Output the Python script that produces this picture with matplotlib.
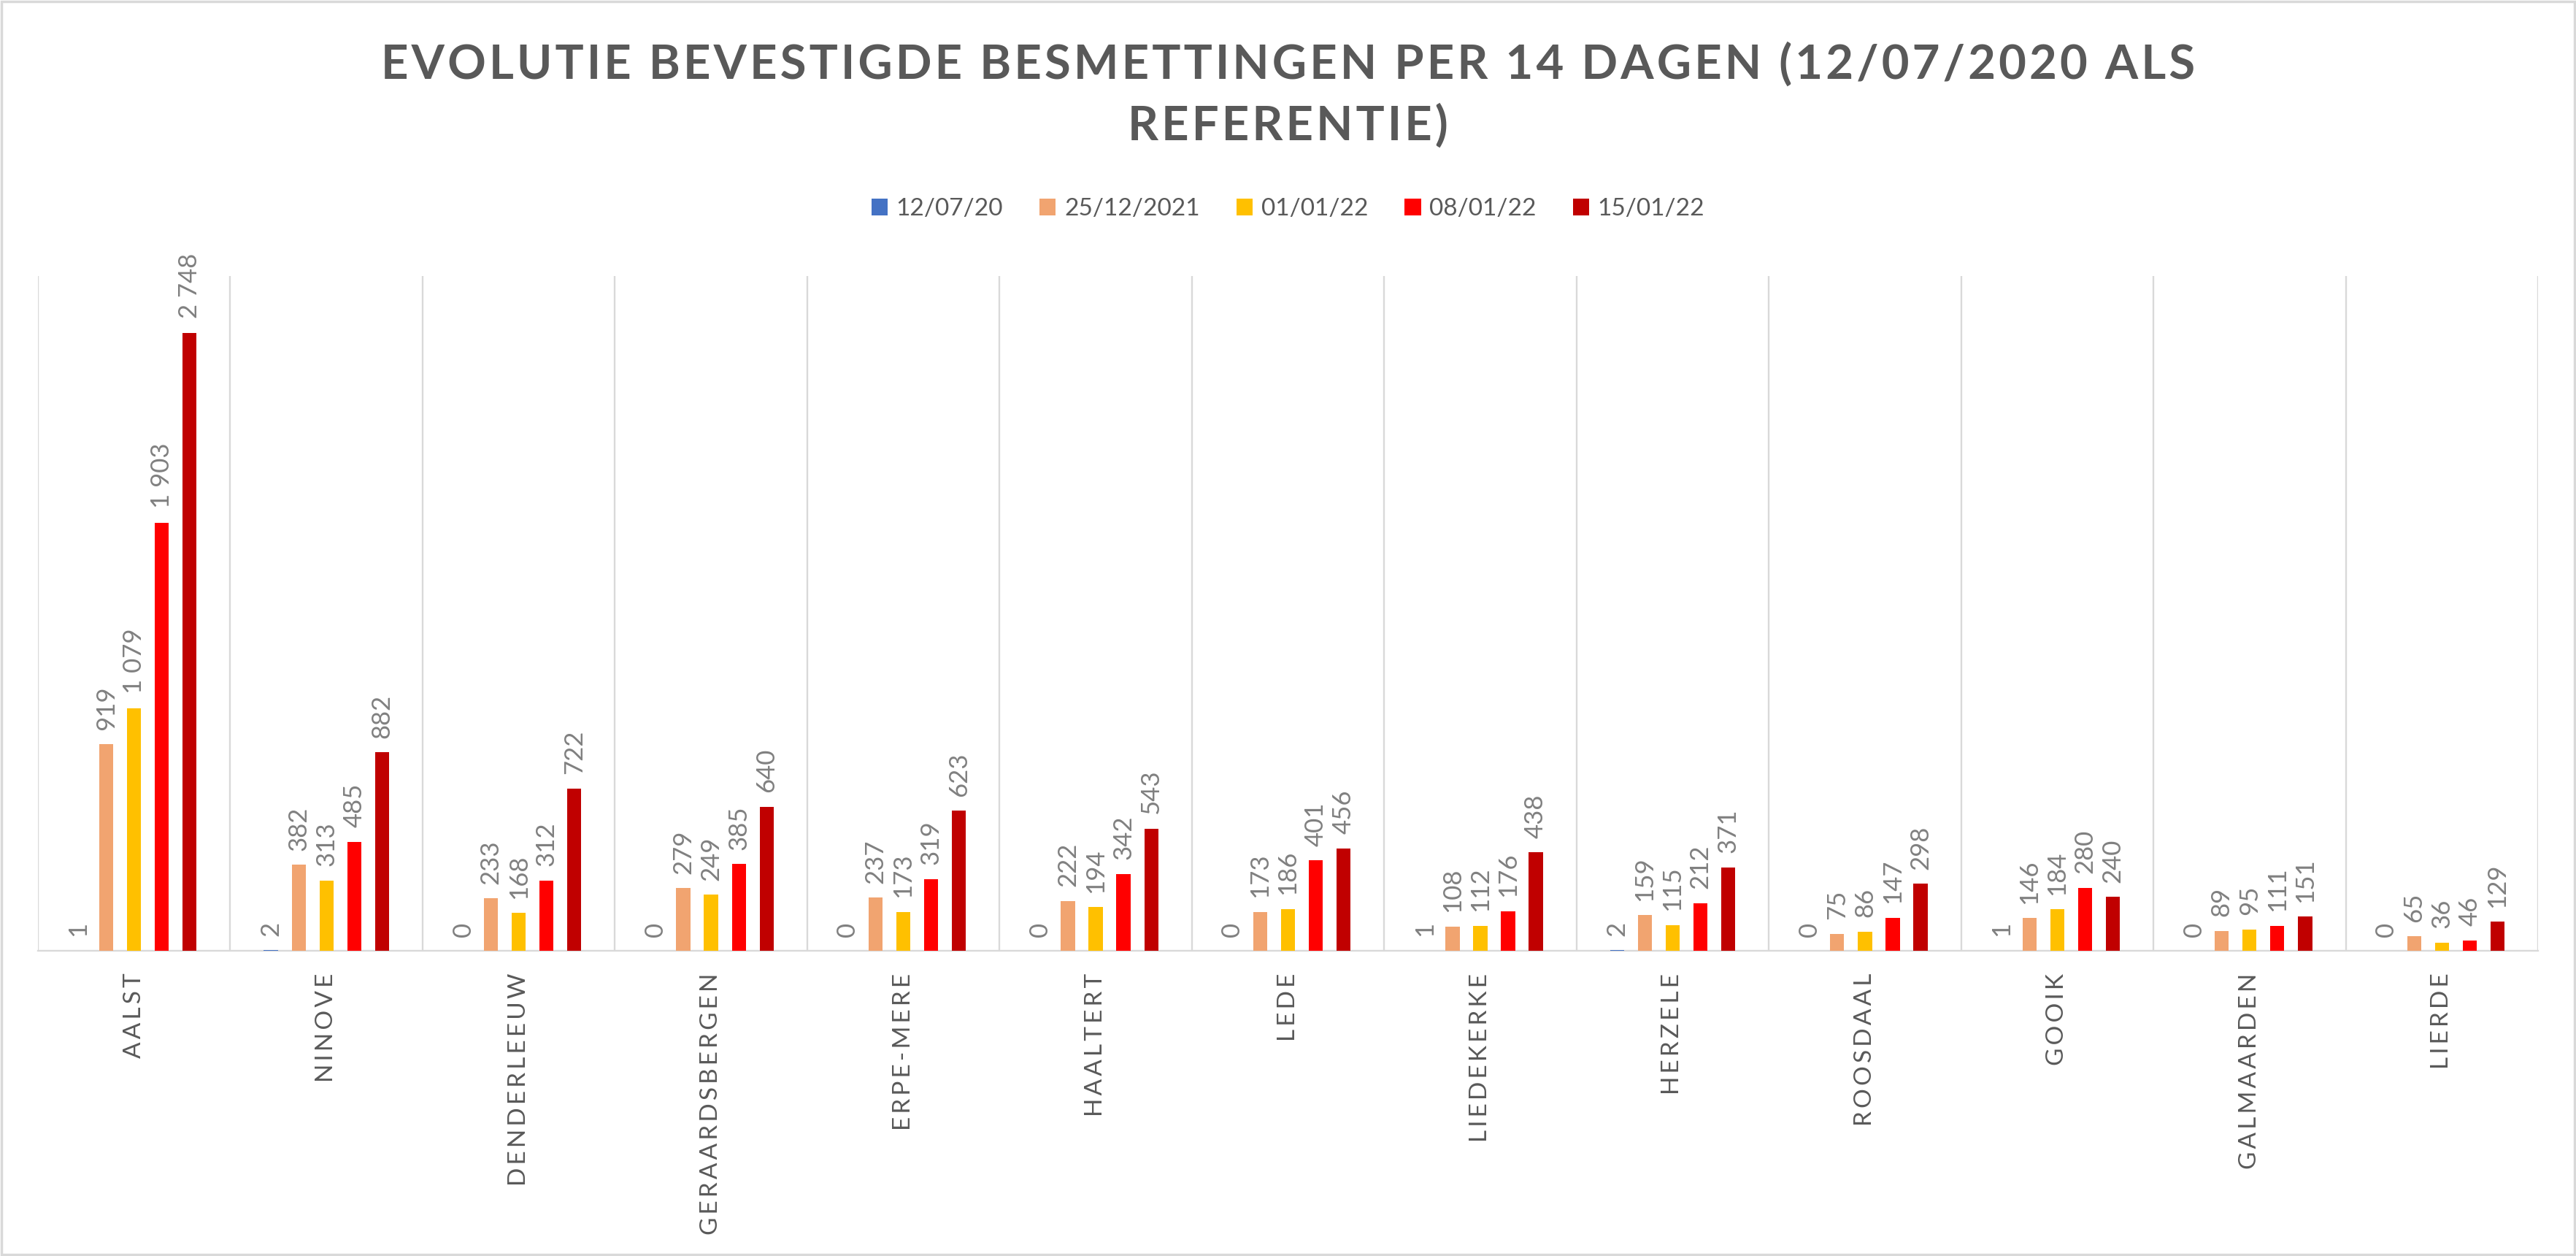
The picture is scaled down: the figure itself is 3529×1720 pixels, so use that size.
import matplotlib
matplotlib.use('Agg')
import matplotlib.pyplot as plt
from matplotlib.patches import Rectangle
import numpy as np

plt.rcParams['font.family'] = ['Lato', 'DejaVu Sans']

# Chart data
gemeenten = ['AALST', 'NINOVE', 'DENDERLEEUW', 'GERAARDSBERGEN', 'ERPE-MERE',
             'HAALTERT', 'LEDE', 'LIEDEKERKE', 'HERZELE', 'ROOSDAAL',
             'GOOIK', 'GALMAARDEN', 'LIERDE']
periodes = ['12/07/20', '25/12/2021', '01/01/22', '08/01/22', '15/01/22']
v_120720 = [1, 2, 0, 0, 0, 0, 0, 1, 2, 0, 1, 0, 0]
v_251221 = [919, 382, 233, 279, 237, 222, 173, 108, 159, 75, 146, 89, 65]
v_010122 = [1079, 313, 168, 249, 173, 194, 186, 112, 115, 86, 184, 95, 36]
v_080122 = [1903, 485, 312, 385, 319, 342, 401, 176, 212, 147, 280, 111, 46]
v_150122 = [2748, 882, 722, 640, 623, 543, 456, 438, 371, 298, 240, 151, 129]
kleuren = ['#4472C4', '#F1A470', '#FFC000', '#FF0000', '#C00000']

TEXT_DARK = '#595959'
TEXT_LABEL = '#808080'
GRID = '#D9D9D9'


def spaced(s, sep='\u2009'):
    """Excel-style letter spacing"""
    return sep.join(s)


def fmt(v):
    return f'{v:,}'.replace(',', ' ')


fig = plt.figure(figsize=(35.29, 17.2), dpi=100)
ax = fig.add_axes([52 / 3529, 1 - 1302 / 1720, (3477 - 52) / 3529, (1302 - 378) / 1720])

series = [v_120720, v_251221, v_010122, v_080122, v_150122]
x = np.arange(len(gemeenten))
step = 0.1445
width = 0.073

for i, (vals, kleur, naam) in enumerate(zip(series, kleuren, periodes)):
    pos = x + (i - 2) * step
    ax.bar(pos, vals, width=width, color=kleur, label=naam, zorder=3)
    for px, v in zip(pos, vals):
        ax.annotate(fmt(v), (px, v), xytext=(0, 14), textcoords='offset points',
                    rotation=90, ha='center', va='bottom', fontsize=25,
                    color=TEXT_LABEL)

ax.set_xlim(-0.5, len(gemeenten) - 0.5)
ax.set_ylim(0, 3000)
ax.set_yticks([])
ax.set_xticks(x)
ax.set_xticklabels([spaced(g) for g in gemeenten], rotation=90, fontsize=24,
                   color=TEXT_DARK, va='top')
ax.set_xticks(np.arange(len(gemeenten) + 1) - 0.5, minor=True)
ax.tick_params(axis='x', which='both', length=0, pad=22)
ax.grid(axis='x', which='minor', color=GRID, linewidth=1.7, zorder=0)
for side in ['left', 'right', 'top']:
    ax.spines[side].set_visible(False)
ax.spines['bottom'].set_color(GRID)
ax.spines['bottom'].set_linewidth(1.7)

titel = ['EVOLUTIE BEVESTIGDE BESMETTINGEN PER 14 DAGEN (12/07/2020 ALS', 'REFERENTIE)']
fig.text(0.5, 1 - 130 / 1720, '\n'.join(spaced(t, '\u200a') for t in titel),
         ha='center', va='center', fontsize=47, fontweight='bold',
         color=TEXT_DARK, linespacing=1.45)

fig.legend(loc='center', bbox_to_anchor=(0.5, 1 - 286 / 1720), ncol=5,
           frameon=False, fontsize=24, labelcolor=TEXT_DARK,
           handlelength=0.67, handleheight=0.67, handletextpad=0.35,
           columnspacing=1.5)

# light border around the chart
fig.patches.append(Rectangle((0.0005, 0.001), 0.999, 0.998, transform=fig.transFigure,
                             fill=False, edgecolor=GRID, linewidth=2.5))

fig.savefig('out.png', dpi=100)
